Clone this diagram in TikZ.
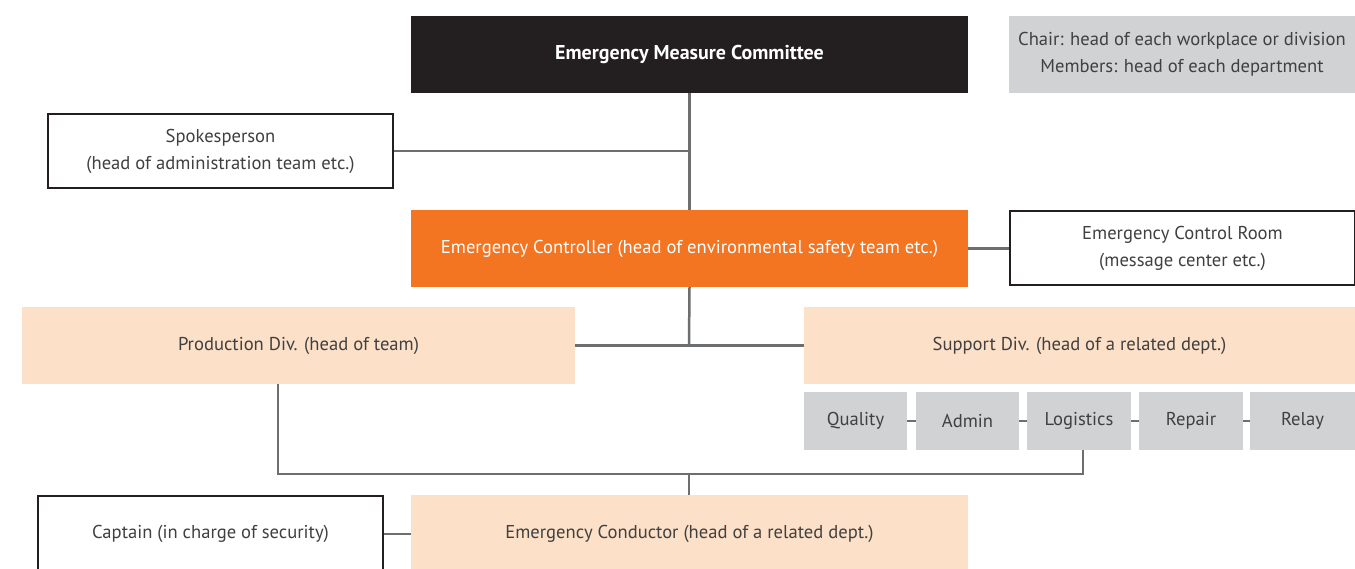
\documentclass[tikz,border=0pt]{standalone}
\usepackage{fontspec}
\setmainfont{PT Sans}
\definecolor{blk}{HTML}{231F20}
\definecolor{org}{HTML}{F37421}
\definecolor{peach}{HTML}{FCE0C8}
\definecolor{gry}{HTML}{D1D2D4}
\definecolor{lin}{HTML}{6D6E70}
\definecolor{txt}{HTML}{404041}
\begin{document}
\begin{tikzpicture}[x=1pt,y=-1pt,
  base/.style={inner sep=0pt, align=center, font=\fontsize{18.6}{27}\selectfont, text=txt},
  dark/.style={base, fill=blk, text=white, font=\fontsize{20}{27}\selectfont\bfseries},
  orangebox/.style={base, fill=org, text=white},
  peachbox/.style={base, fill=peach},
  graybox/.style={base, fill=gry},
  outline/.style={base, draw=blk, line width=2pt, fill=white},
  conn/.style={draw=lin, line width=2.5pt}]
\useasboundingbox (0,0) rectangle (1355,569);
\clip (0,0) rectangle (1355,569);
% boxes
\node[dark, minimum width=557pt, minimum height=77pt] (com) at (689.5,54.5) {Emergency Measure Committee};
\node[graybox, minimum width=346pt, minimum height=77pt] (note) at (1182,54.5) {Chair: head of each workplace or division\\Members: head of each department};
\node[outline, minimum width=345pt, minimum height=74pt] (spk) at (220.5,151) {Spokesperson\\(head of administration team etc.)};
\node[orangebox, minimum width=557pt, minimum height=77pt] (ctl) at (689.5,248.5) {Emergency Controller (head of environmental safety team etc.)};
\node[outline, minimum width=345pt, minimum height=74pt] (room) at (1182.5,248.5) {Emergency Control Room\\(message center etc.)};
\node[peachbox, minimum width=553pt, minimum height=77pt] (prod) at (298.5,345.5) {Production Div. (head of team)};
\node[peachbox, minimum width=551pt, minimum height=77pt] (sup) at (1079.5,345.5) {Support Div. (head of a related dept.)};
\node[graybox, minimum width=103pt, minimum height=58pt] (q) at (855.5,421) {Quality};
\node[graybox, minimum width=103pt, minimum height=58pt] (a) at (967.5,421) {Admin};
\node[graybox, minimum width=104pt, minimum height=58pt] (l) at (1079,421) {Logistics};
\node[graybox, minimum width=104pt, minimum height=58pt] (r) at (1191,421) {Repair};
\node[graybox, minimum width=105pt, minimum height=58pt] (rl) at (1302.5,421) {Relay};
\node[outline, minimum width=345pt, minimum height=150pt] (cap) at (210.5,571) {};
\node[base] (captxt) at (210.5,534) {Captain (in charge of security)};
\node[peachbox, minimum width=557pt, minimum height=150pt] (cond) at (689.5,570) {};
\node[base] (condtxt) at (689.5,534) {Emergency Conductor (head of a related dept.)};
% connectors
\coordinate (j1) at (689,151);
\coordinate (j2) at (689,345);
\coordinate (j3) at (689,474);
\coordinate (lx) at (1083,450);
\draw[conn] (com.south) -- (ctl.north);
\draw[conn] (spk.east) -- (j1);
\draw[conn] (ctl.east) -- (room.west);
\draw[conn] (ctl.south) -- (j2);
\draw[conn] (prod.east) -- (sup.west);
\draw[conn] (prod.south -| 278,0) |- (j3) -| (lx);
\draw[conn] (j3) -- (cond.north -| j3);
\draw[conn] (cap.east |- captxt) -- (cond.west |- condtxt);
\draw[conn] (q.east) -- (a.west);
\draw[conn] (a.east) -- (l.west);
\draw[conn] (l.east) -- (r.west);
\draw[conn] (r.east) -- (rl.west);
\end{tikzpicture}
\end{document}
